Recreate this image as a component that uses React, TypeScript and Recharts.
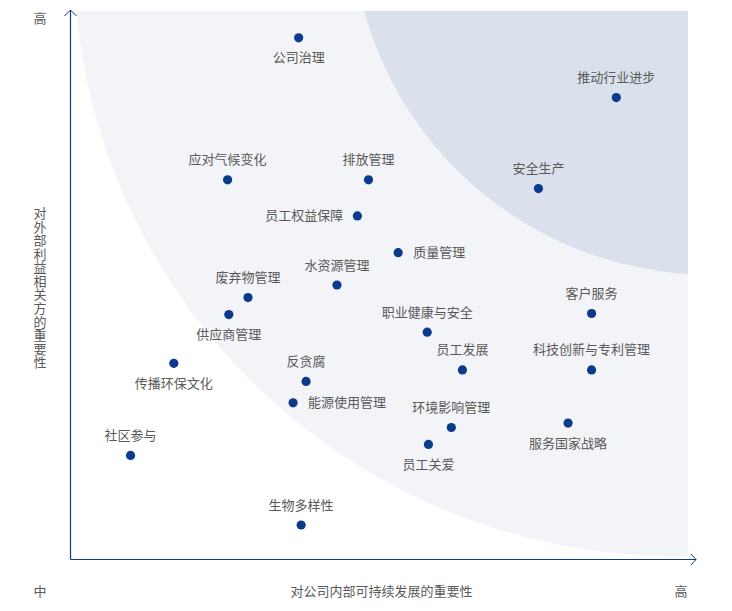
import { ScatterChart, Scatter, XAxis, YAxis, ReferenceArea } from "recharts";

// materiality topics
const topics = [
  "公司治理",
  "推动行业进步",
  "应对气候变化",
  "排放管理",
  "安全生产",
  "员工权益保障",
  "质量管理",
  "水资源管理",
  "废弃物管理",
  "供应商管理",
  "客户服务",
  "职业健康与安全",
  "传播环保文化",
  "员工发展",
  "科技创新与专利管理",
  "反贪腐",
  "能源使用管理",
  "环境影响管理",
  "服务国家战略",
  "员工关爱",
  "社区参与",
  "生物多样性",
];

// importance to internal sustainable development (x, 0-100)
const internalImportance = [
  37.0, 88.4, 25.5, 48.3, 75.8, 46.5, 53.1, 43.2, 28.8, 25.7, 84.4, 57.8, 16.8,
  63.5, 84.4, 38.2, 36.1, 61.7, 80.6, 58.0, 9.8, 37.4,
];

// importance to external stakeholders (y, 0-100)
const externalImportance = [
  95.1, 84.2, 69.2, 69.2, 67.6, 62.6, 55.9, 50.0, 47.7, 44.6, 44.8, 41.4, 35.7,
  34.5, 34.5, 32.4, 28.5, 24.0, 24.8, 20.9, 18.9, 6.2,
];

const xTitle = "对公司内部可持续发展的重要性";
const yTitle = "对外部利益相关方的重要性";

const data = topics.map((name, i) => ({
  name,
  x: internalImportance[i],
  y: externalImportance[i],
}));

type Side = "top" | "bottom" | "left" | "right";

const labelSide: Record<string, Side> = {
  公司治理: "bottom",
  供应商管理: "bottom",
  传播环保文化: "bottom",
  服务国家战略: "bottom",
  员工关爱: "bottom",
  员工权益保障: "left",
  质量管理: "right",
  能源使用管理: "right",
};

const FONT = '"Noto Sans CJK SC", "Noto Sans", sans-serif';
const TEXT = "#595959";
const NAVY = "#0b3a8c";
const AXIS = "#0d3a86";

function TopicDot(props: any) {
  const { cx, cy, payload } = props;
  const side = labelSide[payload.name] ?? "top";
  let tx = cx;
  let ty = cy - 1.5;
  let anchor: "middle" | "start" | "end" = "middle";
  if (side === "top") ty = cy - 21;
  if (side === "bottom") ty = cy + 19;
  if (side === "left") {
    tx = cx - 14;
    anchor = "end";
  }
  if (side === "right") {
    tx = cx + 15;
    anchor = "start";
  }
  return (
    <g>
      <circle cx={cx} cy={cy} r={4.6} fill={NAVY} />
      <text
        x={tx}
        y={ty}
        textAnchor={anchor}
        dominantBaseline="central"
        fontSize={13}
        fontFamily={FONT}
        fill={TEXT}
      >
        {payload.name}
      </text>
    </g>
  );
}

// shaded zones, axes with arrows and the axis captions
function Backdrop(props: any) {
  const { x, y, width: w, height: h } = props;
  const right = x + w;
  const bottom = y + h;
  const ax = x + 0.5;
  const ay = bottom + 0.5;

  return (
    <g>
      <defs>
        <clipPath id="matrix-clip">
          <rect x={x} y={y} width={w} height={h} />
        </clipPath>
      </defs>
      <g clipPath="url(#matrix-clip)">
        <circle cx={x + w * 0.981} cy={y - h * 0.1057} r={w * 0.976} fill="#f2f4f8" />
        <circle cx={x + w * 1.0367} cy={y - h * 0.175} r={w * 0.582} fill="#dae1ec" />
      </g>

      <line x1={ax} y1={y - 1} x2={ax} y2={ay} stroke={AXIS} strokeWidth={1.2} />
      <polyline
        points={`${ax - 6},${y + 5} ${ax},${y - 1} ${ax + 6},${y + 5}`}
        fill="none"
        stroke={AXIS}
        strokeWidth={1}
      />
      <line x1={ax} y1={ay} x2={right + 8} y2={ay} stroke={AXIS} strokeWidth={1.2} />
      <polyline
        points={`${right + 3},${ay - 5.5} ${right + 8},${ay} ${right + 3},${ay + 5.5}`}
        fill="none"
        stroke={AXIS}
        strokeWidth={1}
      />

      <g fontSize={13} fontFamily={FONT} fill={TEXT}>
        <text x={x - 30} y={y + 6} textAnchor="middle" dominantBaseline="central">
          高
        </text>
        <text x={x - 30} y={bottom + 31} textAnchor="middle" dominantBaseline="central">
          中
        </text>
        <text x={right - 7} y={bottom + 31} textAnchor="middle" dominantBaseline="central">
          高
        </text>
        <text x={x + w / 2 + 2.5} y={bottom + 31} textAnchor="middle" dominantBaseline="central">
          {xTitle}
        </text>
        <text
          x={x - 30}
          y={y + 277}
          textAnchor="middle"
          style={{ writingMode: "vertical-rl", letterSpacing: 0.55 }}
        >
          {yTitle}
        </text>
      </g>
    </g>
  );
}

export default function App() {
  return (
    <div style={{ width: 724, height: 603, background: "#fff" }}>
      <ScatterChart
        width={724}
        height={603}
        margin={{ top: 3, right: 44, bottom: 52, left: 62 }}
      >
        <XAxis type="number" dataKey="x" domain={[0, 100]} hide />
        <YAxis type="number" dataKey="y" domain={[0, 100]} hide />

        <ReferenceArea
          x1={0}
          x2={100}
          y1={0}
          y2={100}
          ifOverflow="visible"
          shape={(p: any) => <Backdrop {...p} />}
        />

        <Scatter
          data={data}
          shape={(p: any) => <TopicDot {...p} />}
          isAnimationActive={false}
        />
      </ScatterChart>
    </div>
  );
}
